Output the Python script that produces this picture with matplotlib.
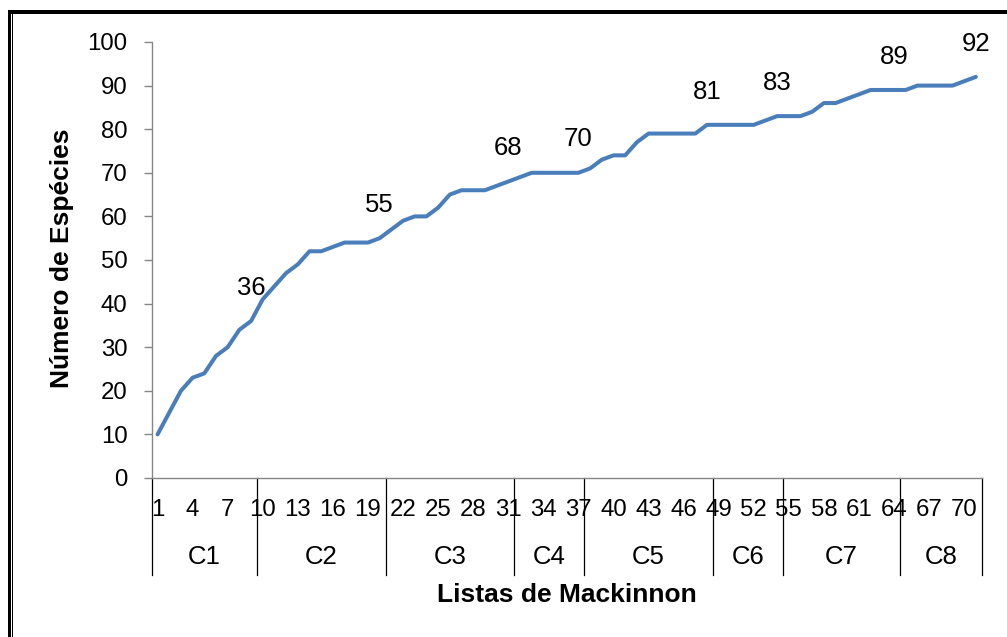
import matplotlib.pyplot as plt
import matplotlib.transforms as mtransforms
from matplotlib.patches import Rectangle
import numpy as np

plt.rcParams['font.family'] = ['Liberation Sans', 'DejaVu Sans']

# numero acumulado de especies por lista de Mackinnon
especies = [10, 15, 20, 23, 24, 28, 30, 34, 36,
            41, 44, 47, 49, 52, 52, 53, 54, 54, 54, 55,
            57, 59, 60, 60, 62, 65, 66, 66, 66, 67, 68,
            69, 70, 70, 70, 70, 70,
            71, 73, 74, 74, 77, 79, 79, 79, 79, 79, 81,
            81, 81, 81, 81, 82, 83,
            83, 83, 84, 86, 86, 87, 88, 89, 89, 89,
            89, 90, 90, 90, 90, 91, 92]
grupos = ['C1', 'C2', 'C3', 'C4', 'C5', 'C6', 'C7', 'C8']
tam_grupos = [9, 11, 11, 6, 11, 6, 10, 7]

W, H = 1007, 637
fig = plt.figure(figsize=(W / 100, H / 100), dpi=100)
ax = fig.add_axes([151.7 / W, 1 - 478 / H, 830 / W, 436 / H])

x = np.arange(1, len(especies) + 1)
ax.plot(x, especies, color='#4A7EBB', lw=2.9,
        solid_joinstyle='round', solid_capstyle='round')

ax.set_xlim(0.5, len(especies) + 0.5)
ax.set_ylim(0, 100)
ax.set_yticks(range(0, 101, 10))
ax.set_xticks(x[::3])
ax.tick_params(axis='x', length=0, pad=15, labelsize=17.3)
ax.tick_params(axis='y', length=5.5, width=1, color='#868686', pad=12, labelsize=17.3)
for s in ['top', 'right']:
    ax.spines[s].set_visible(False)
for s in ['left', 'bottom']:
    ax.spines[s].set_color('#868686')
    ax.spines[s].set_linewidth(1)

# eixo de categorias em dois niveis
fins = np.cumsum(tam_grupos)
limites = np.concatenate([[0], fins]) + 0.5
trans = mtransforms.blended_transform_factory(ax.transData, ax.transAxes)
for b in limites:
    ax.plot([b, b], [0, -0.2225], transform=trans, color='black', lw=0.9, clip_on=False)
inicio = 0
for g, e in zip(grupos, fins):
    ax.text((inicio + e + 1) / 2, -0.181, g, transform=trans, ha='center', va='center',
            fontsize=18.5)
    inicio = e

# rotulos de dados no fim de cada grupo
for e in fins:
    ax.annotate(str(especies[e - 1]), (e, especies[e - 1]), xytext=(0, 24),
                textcoords='offset points', ha='center', va='center', fontsize=18.5)

ax.text(-0.1075, 0.503, 'Número de Espécies', rotation=90, transform=ax.transAxes,
        ha='center', va='center', fontweight='bold', fontsize=19)
ax.text(0.5003, -0.268, 'Listas de Mackinnon', transform=ax.transAxes,
        ha='center', va='center', fontweight='bold', fontsize=19)

# moldura
for rx, ry, rw, rh in [(8, 0, 3, 627), (12, 0, 1.3, 627), (8, 623, 999, 4)]:
    fig.add_artist(Rectangle((rx / W, ry / H), rw / W, rh / H, transform=fig.transFigure,
                             facecolor='black', edgecolor='none'))

fig.savefig('out.png', dpi=100)
